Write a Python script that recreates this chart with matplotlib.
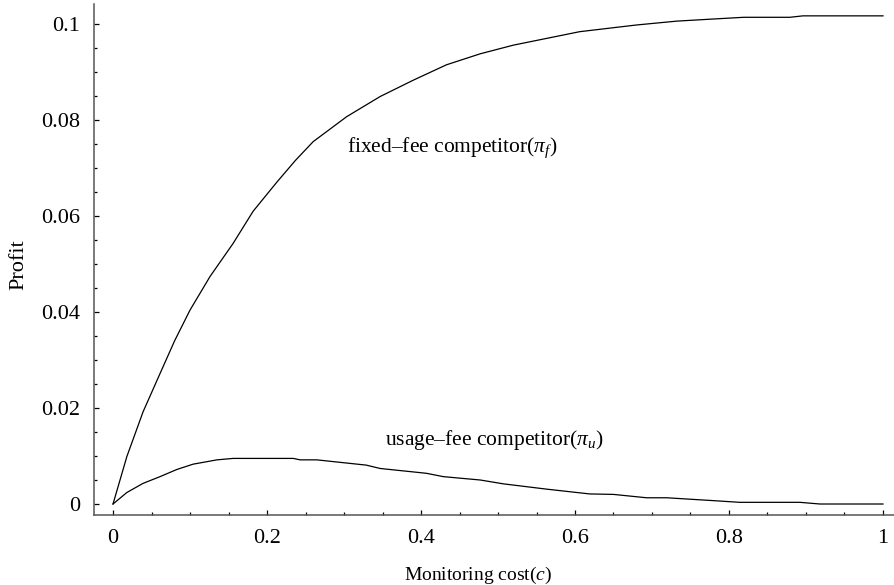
import matplotlib
matplotlib.use("Agg")
import matplotlib.pyplot as plt
from matplotlib.ticker import FixedLocator, MultipleLocator, FixedFormatter

plt.rcParams['font.family'] = ['Liberation Serif', 'DejaVu Serif']
plt.rcParams['mathtext.fontset'] = 'custom'
plt.rcParams['mathtext.rm'] = 'Liberation Serif'
plt.rcParams['mathtext.it'] = 'Liberation Serif:italic'

# fixed-fee competitor profit
fixed_c = [0, 0.018, 0.039, 0.06, 0.08, 0.1, 0.126, 0.156, 0.182, 0.213, 0.237, 0.26,
           0.3035, 0.347, 0.39, 0.433, 0.477, 0.52, 0.563, 0.606, 0.68, 0.732,
           0.775, 0.819, 0.879, 0.896, 1.0]
fixed_profit = [0, 0.0099, 0.0192, 0.0268, 0.0340, 0.0404, 0.0474, 0.0543, 0.0610,
                0.0671, 0.0716, 0.0755, 0.0807, 0.0849, 0.0883, 0.0915, 0.0938, 0.0956,
                0.097, 0.0984, 0.0998, 0.1006, 0.101, 0.1014, 0.1014, 0.1017, 0.1017]

# usage-fee competitor profit
usage_c = [0, 0.018, 0.039, 0.061, 0.083, 0.104, 0.135, 0.156, 0.234, 0.243, 0.2645,
           0.329, 0.347, 0.407, 0.429, 0.477, 0.507, 0.563, 0.619, 0.65, 0.693,
           0.719, 0.78, 0.814, 0.892, 0.918, 1.0]
usage_profit = [0, 0.0024, 0.0043, 0.0057, 0.0072, 0.0083, 0.0092, 0.0095, 0.0095,
                0.0092, 0.0092, 0.0081, 0.0074, 0.0064, 0.0057, 0.005, 0.0042,
                0.0031, 0.0021, 0.002, 0.0013, 0.0013, 0.0007, 0.00035, 0.00035,
                0.0, 0.0]

xticks = [0, 0.2, 0.4, 0.6, 0.8, 1.0]
xtick_labels = ["0", "0.2", "0.4", "0.6", "0.8", "1"]
yticks = [0, 0.02, 0.04, 0.06, 0.08, 0.1]
ytick_labels = ["0", "0.02", "0.04", "0.06", "0.08", "0.1"]

fig = plt.figure(figsize=(8.95, 5.85), dpi=100)
ax = fig.add_axes([94 / 895, 70 / 585, 801 / 895, 511 / 585])

ax.plot(fixed_c, fixed_profit, color="black", lw=0.9)
ax.plot(usage_c, usage_profit, color="black", lw=0.9)

ax.set_xlim(-0.0247, 1.0156)
ax.set_ylim(-0.00229, 0.10417)

for s in ["top", "right"]:
    ax.spines[s].set_visible(False)
for s in ["left", "bottom"]:
    ax.spines[s].set_color("#555555")
    ax.spines[s].set_linewidth(1.1)

ax.xaxis.set_major_locator(FixedLocator(xticks))
ax.xaxis.set_major_formatter(FixedFormatter(xtick_labels))
ax.yaxis.set_major_locator(FixedLocator(yticks))
ax.yaxis.set_major_formatter(FixedFormatter(ytick_labels))
ax.xaxis.set_minor_locator(MultipleLocator(0.05))
ax.yaxis.set_minor_locator(MultipleLocator(0.005))

ax.tick_params(which="both", direction="in", color="black", width=0.9)
ax.tick_params(which="major", length=3.8, labelsize=16, pad=10)
ax.tick_params(which="minor", length=2.3)

ax.text(0.304, 0.0742, "fixed\u2013fee competitor($\\pi_f$)", fontsize=15.5, va="center", ha="left")
ax.text(0.353, 0.0133, "usage\u2013fee competitor($\\pi_u$)", fontsize=15.5, va="center", ha="left")

ax.set_xlabel("Monitoring cost($c$)", fontsize=14)
ax.set_ylabel("Profit", fontsize=16)
ax.xaxis.set_label_coords(0.48, -0.097)
ax.yaxis.set_label_coords(-0.082, 0.489)

fig.savefig("out.png", dpi=100)
